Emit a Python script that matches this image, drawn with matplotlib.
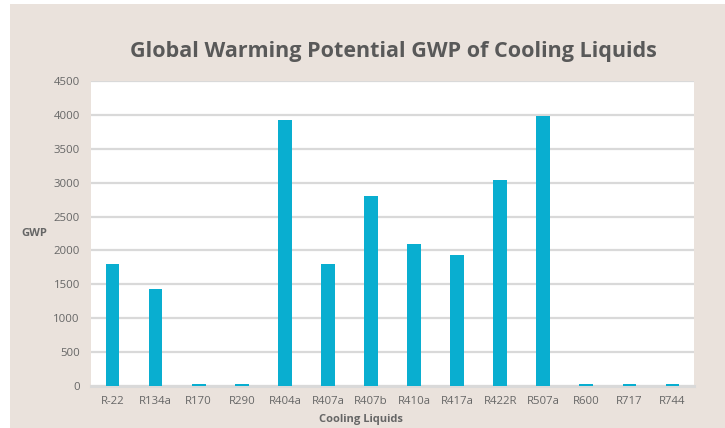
import matplotlib
matplotlib.use("Agg")
import matplotlib.pyplot as plt
from matplotlib.patches import Rectangle

refrigerants = ["R-22", "R134a", "R170", "R290", "R404a", "R407a", "R407b",
                "R410a", "R417a", "R422R", "R507a", "R600", "R717", "R744"]
gwp_values = [1800, 1430, 25, 25, 3922, 1800, 2800,
              2088, 1940, 3040, 3985, 25, 25, 25]
y_ticks = [0, 500, 1000, 1500, 2000, 2500, 3000, 3500, 4000, 4500]

BG = "#EAE2DC"
BAR = "#09AED0"
TEXT = "#666666"
GRID = "#D9D9D9"

W, H = 725, 428
fig = plt.figure(figsize=(W / 100, H / 100), dpi=100)
fig.patch.set_facecolor("white")
# beige panel behind the chart
fig.add_artist(Rectangle((10 / W, 0), 1 - 10 / W, 1 - 4 / H,
                         transform=fig.transFigure, facecolor=BG,
                         edgecolor="none", zorder=-10))

ax = fig.add_axes([91 / W, 1 - 386 / H, (694 - 91) / W, (386 - 81) / H])
ax.set_facecolor("white")

x = range(len(refrigerants))
ax.bar(x, gwp_values, width=0.32, color=BAR, zorder=5)

ax.set_xlim(-0.5, len(refrigerants) - 0.5)
ax.set_ylim(0, 4500)
ax.set_yticks(y_ticks)
ax.set_xticks(list(x))
ax.set_xticklabels(refrigerants)

ax.grid(axis="y", color=GRID, linewidth=1.6, zorder=1)
ax.set_axisbelow(True)
for side in ("top", "right", "left"):
    ax.spines[side].set_visible(False)
ax.spines["bottom"].set_color(GRID)
ax.spines["bottom"].set_linewidth(2.2)
ax.spines["bottom"].set_zorder(4)

ax.tick_params(axis="both", length=0, colors=TEXT, labelsize=8.2)
ax.tick_params(axis="y", pad=8)
ax.tick_params(axis="x", pad=7)
for lbl in ax.get_xticklabels() + ax.get_yticklabels():
    lbl.set_fontfamily("Open Sans")

ax.text(-0.094, 0.50, "GWP", transform=ax.transAxes, ha="center", va="center",
        fontsize=8, fontweight="bold", color=TEXT, family="Open Sans")
ax.text(0.448, -0.111, "Cooling Liquids", transform=ax.transAxes,
        ha="center", va="center", fontsize=8, fontweight="bold",
        color=TEXT, family="Open Sans")

fig.text(393 / W, 1 - 52 / H, "Global Warming Potential GWP of Cooling Liquids",
         ha="center", va="center", fontsize=15.5, fontweight="bold",
         color="#595959", family="Open Sans")

fig.savefig("out.png", dpi=100, facecolor=fig.get_facecolor())
